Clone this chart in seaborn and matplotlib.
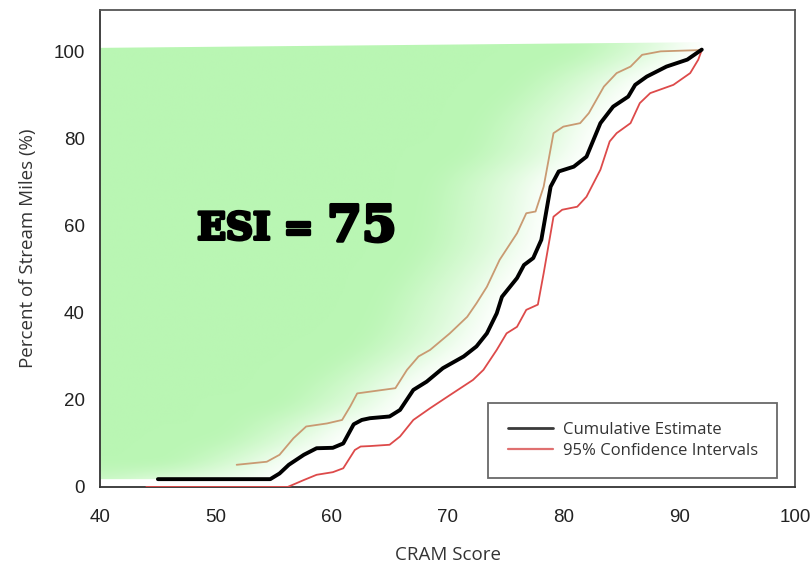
import numpy as np
import pandas as pd
import seaborn as sns
import matplotlib
matplotlib.use("Agg")
import matplotlib.pyplot as plt
from matplotlib.patches import Polygon
from matplotlib.lines import Line2D
import matplotlib.patheffects as pe

# ---------------- data ----------------
cum_x = [45.0, 54.7, 55.5, 56.3, 57.6, 58.7, 60.1, 61.0, 61.9, 62.6, 63.3, 65.0, 65.9, 67.05,
         68.2, 69.6, 71.4, 72.5, 73.4, 74.25, 74.7, 76.0, 76.6, 77.4, 78.1, 78.9, 79.6, 80.9,
         82.0, 83.2, 84.3, 85.6, 86.2, 87.2, 88.9, 90.7, 91.95]
cum_y = [1.8, 1.8, 3.1, 5.1, 7.4, 8.9, 9.0, 10.0, 14.4, 15.4, 15.8, 16.2, 17.7, 22.3,
         24.2, 27.3, 30.0, 32.3, 35.3, 39.9, 43.7, 48.0, 51.0, 52.6, 56.8, 69.0, 72.5, 73.6,
         75.9, 83.6, 87.4, 89.7, 92.4, 94.3, 96.6, 98.2, 100.5]

up_x = [51.8, 54.4, 55.5, 56.7, 57.8, 59.6, 60.9, 61.6, 62.2, 63.3, 65.5, 66.5, 67.5, 68.5,
        70.2, 71.7, 72.5, 73.4, 74.5, 76.0, 76.8, 77.6, 78.3, 79.15, 80.0, 81.45, 82.2, 83.5,
        84.6, 85.8, 86.8, 88.4, 91.95]
up_y = [5.1, 5.8, 7.4, 11.2, 13.9, 14.6, 15.4, 18.5, 21.5, 21.9, 22.7, 26.9, 30.0, 31.5,
        35.3, 39.1, 42.2, 46.0, 52.2, 58.3, 62.9, 63.3, 69.0, 81.3, 82.8, 83.6, 85.9, 92.0,
        95.1, 96.6, 99.3, 100.1, 100.4]

lo_x = [44.0, 56.2, 57.6, 58.7, 60.1, 61.0, 62.0, 62.5, 63.3, 65.0, 65.9, 67.05, 68.5, 70.2,
        72.2, 73.1, 74.25, 75.1, 76.0, 76.8, 77.8, 78.3, 79.15, 79.9, 81.2, 82.0, 83.2, 84.0,
        84.6, 85.8, 86.6, 87.5, 89.5, 90.95, 91.65, 91.95]
lo_y = [0.0, 0.0, 1.6, 2.8, 3.4, 4.3, 8.5, 9.3, 9.4, 9.7, 11.6, 15.4, 18.1, 21.1,
        24.6, 26.9, 31.5, 35.3, 36.8, 40.7, 41.9, 49.1, 62.1, 63.7, 64.4, 66.7, 72.9, 79.4,
        81.3, 83.6, 88.2, 90.5, 92.4, 95.1, 98.2, 100.4]

fill_left_x = 40.0
fill_top_y = [100.9, 102.2]   # top edge of the shaded area at left / right end

x_ticks = [40, 50, 60, 70, 80, 90, 100]
y_ticks = [0, 20, 40, 60, 80, 100]
legend_labels = ["Cumulative Estimate", "95% Confidence Intervals"]
esi_label = "ESI"
esi_value = "75"

# ---------------- style ----------------
sns.set_style("white")
plt.rcParams["font.family"] = ["Liberation Sans", "DejaVu Sans"]
label_font = ["Open Sans", "DejaVu Sans"]

fig = plt.figure(figsize=(8.11, 5.65), dpi=100)
ax = fig.add_axes([0.1233, 0.1381, 0.857, 0.8442])

# ---------------- gradient fill above the cumulative curve ----------------
green = np.array([186, 246, 180]) / 255.0
n = 400
gx = np.linspace(40, 93, n)
gy = np.linspace(0, 104, n)
GX, GY = np.meshgrid(gx, gy)
xb = np.interp(GY, cum_y, cum_x)
d = xb - GX
f = np.clip((d - 0.5) / 10.0, 0, 1) ** 0.75


def blur(a, w):
    k = np.ones(w) / w
    pad = w // 2
    b = np.pad(a, ((pad, pad), (0, 0)), mode="edge")
    b = np.apply_along_axis(lambda c: np.convolve(c, k, mode="valid"), 0, b)
    b = np.pad(b, ((0, 0), (pad, pad)), mode="edge")
    b = np.apply_along_axis(lambda r: np.convolve(r, k, mode="valid"), 1, b)
    return b[:a.shape[0], :a.shape[1]]


f = blur(blur(f, 21), 21)
rgba = np.ones(GX.shape + (4,))
for k in range(3):
    rgba[..., k] = 1.0 * (1 - f) + green[k] * f
im = ax.imshow(rgba, extent=[40, 93, 0, 104], origin="lower", aspect="auto",
               interpolation="bilinear", zorder=0)
poly_xy = [(fill_left_x, cum_y[0])] + list(zip(cum_x, cum_y)) + \
          [(cum_x[-1], fill_top_y[1]), (fill_left_x, fill_top_y[0])]
clip = Polygon(poly_xy, closed=True, transform=ax.transData, facecolor="none", edgecolor="none")
ax.add_patch(clip)
im.set_clip_path(clip)

# ---------------- lines ----------------
df_cum = pd.DataFrame({"x": cum_x, "y": cum_y})
df_up = pd.DataFrame({"x": up_x, "y": up_y})
df_lo = pd.DataFrame({"x": lo_x, "y": lo_y})
sns.lineplot(data=df_up, x="x", y="y", ax=ax, color="#c99a72", linewidth=1.3, sort=False,
             estimator=None, zorder=3)
sns.lineplot(data=df_lo, x="x", y="y", ax=ax, color="#dd4a4a", linewidth=1.3, sort=False,
             estimator=None, zorder=3)
sns.lineplot(data=df_cum, x="x", y="y", ax=ax, color="black", linewidth=2.8, sort=False,
             estimator=None, zorder=4, solid_joinstyle="round", solid_capstyle="round")

# ---------------- axes ----------------
ax.set_xlim(40, 100)
ax.set_ylim(0, 109.6)
ax.set_xticks(x_ticks)
ax.set_yticks(y_ticks)
ax.set_xticklabels([str(t) for t in x_ticks])
ax.set_yticklabels([str(t) for t in y_ticks])
ax.tick_params(axis="both", direction="out", length=6, width=1.2, colors="#333333",
               labelsize=13.5, labelcolor="#222222")
ax.tick_params(axis="x", pad=10)
ax.tick_params(axis="y", pad=5)
for s in ax.spines.values():
    s.set_visible(True)
    s.set_color("#555555")
    s.set_linewidth(1.3)
ax.spines["left"].set_color("#333333")
ax.spines["bottom"].set_color("#333333")
ax.set_xlabel("CRAM Score", fontsize=13.5, family=label_font, color="#333333", labelpad=14)
ax.set_ylabel("Percent of Stream Miles (%)", fontsize=13.5, family=label_font,
              color="#333333", labelpad=12)

# ---------------- ESI annotation ----------------
fx = [pe.Stroke(linewidth=2.4, foreground="black"), pe.Normal()]
ax.text(48.4, 56.9, esi_label, fontsize=27, family="DejaVu Serif", weight="bold",
        color="black", ha="left", va="baseline", path_effects=fx, zorder=5)
ax.text(57.1, 56.9, "=", fontsize=26, family="DejaVu Serif", weight="bold",
        color="black", ha="center", va="baseline", path_effects=fx, zorder=5)
ax.text(59.6, 56.5, esi_value, fontsize=36, family="DejaVu Serif", weight="bold",
        color="black", ha="left", va="baseline", path_effects=fx, zorder=5)

# ---------------- legend ----------------
handles = [Line2D([], [], color="#3a3a3a", linewidth=2.0),
           Line2D([], [], color="#e07070", linewidth=1.6)]
leg = ax.legend(handles, legend_labels, loc="lower right", bbox_to_anchor=(0.974, 0.019),
                borderaxespad=0, frameon=True, fancybox=False, shadow=False,
                prop={"family": label_font, "size": 12}, handlelength=2.7,
                handletextpad=0.6, borderpad=1.15, labelspacing=0.3)
leg.get_frame().set_edgecolor("#444444")
leg.get_frame().set_linewidth(1.3)
for t in leg.get_texts():
    t.set_color("#333333")

fig.savefig("out.png", dpi=100)
